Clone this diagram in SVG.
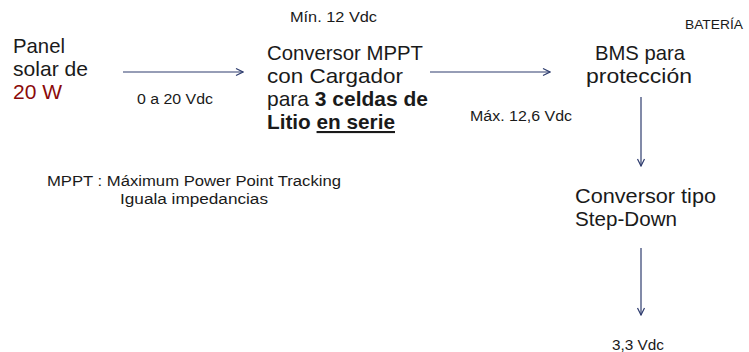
<svg xmlns="http://www.w3.org/2000/svg" width="749" height="352" viewBox="0 0 749 352">
<defs>
<style>
text{font-family:"Liberation Sans",Arial,sans-serif;fill:#1a1a1a}
.big{font-size:21px}
.sm{font-size:14px}
.xs{font-size:12px}
.red{fill:#8b0a0a}
.b{font-weight:bold}
.conn line{stroke:#2e3c6e;stroke-width:1.2;fill:none}
</style>
<marker id="ah" viewBox="0 0 10 10" refX="9" refY="5" markerWidth="10" markerHeight="10" markerUnits="userSpaceOnUse" orient="auto">
<path d="M2,1.5 L9,5 L2,8.5" fill="none" stroke="#2e3c6e" stroke-width="1.2"/>
</marker>
</defs>
<rect width="749" height="352" fill="#ffffff"/>
<g id="panel">
<text class="big" x="13" y="53" textLength="52" lengthAdjust="spacingAndGlyphs">Panel</text>
<text class="big" x="13" y="76" textLength="75" lengthAdjust="spacingAndGlyphs">solar de</text>
<text class="big red" x="13" y="99" textLength="49" lengthAdjust="spacingAndGlyphs">20 W</text>
</g>
<g id="mppt">
<text class="sm" x="290" y="22" textLength="87" lengthAdjust="spacingAndGlyphs">Mín. 12 Vdc</text>
<text class="big" x="267" y="60" textLength="156" lengthAdjust="spacingAndGlyphs">Conversor MPPT</text>
<text class="big" x="267" y="83" textLength="136" lengthAdjust="spacingAndGlyphs">con Cargador</text>
<text class="big" x="267" y="106" textLength="161" lengthAdjust="spacingAndGlyphs">para <tspan class="b">3 celdas de</tspan></text>
<text class="big b" x="267" y="129" textLength="128" lengthAdjust="spacingAndGlyphs">Litio <tspan text-decoration="underline">en serie</tspan></text>
</g>
<g id="bms">
<text class="xs" x="685" y="29" textLength="58" lengthAdjust="spacingAndGlyphs">BATERÍA</text>
<text class="big" x="595" y="60" textLength="90" lengthAdjust="spacingAndGlyphs">BMS para</text>
<text class="big" x="586" y="83" textLength="106" lengthAdjust="spacingAndGlyphs">protección</text>
</g>
<g id="stepdown">
<text class="big" x="575" y="203" textLength="141" lengthAdjust="spacingAndGlyphs">Conversor tipo</text>
<text class="big" x="575" y="226" textLength="102" lengthAdjust="spacingAndGlyphs">Step-Down</text>
</g>
<g id="note">
<text class="sm" x="47" y="186" textLength="294" lengthAdjust="spacingAndGlyphs">MPPT : Máximum Power Point Tracking</text>
<text class="sm" x="120" y="204" textLength="148" lengthAdjust="spacingAndGlyphs">Iguala impedancias</text>
</g>
<g id="labels">
<text class="sm" x="137" y="104" textLength="76" lengthAdjust="spacingAndGlyphs">0 a 20 Vdc</text>
<text class="sm" x="470" y="121" textLength="102" lengthAdjust="spacingAndGlyphs">Máx. 12,6 Vdc</text>
<text class="sm" x="612" y="350" textLength="52" lengthAdjust="spacingAndGlyphs">3,3 Vdc</text>
</g>
<g id="connectors" class="conn">
<line x1="123" y1="72" x2="243" y2="72" marker-end="url(#ah)"/>
<line x1="430" y1="72" x2="550" y2="72" marker-end="url(#ah)"/>
<line x1="641" y1="97" x2="641" y2="166" marker-end="url(#ah)"/>
<line x1="641" y1="248" x2="641" y2="315" marker-end="url(#ah)"/>
</g>
</svg>
